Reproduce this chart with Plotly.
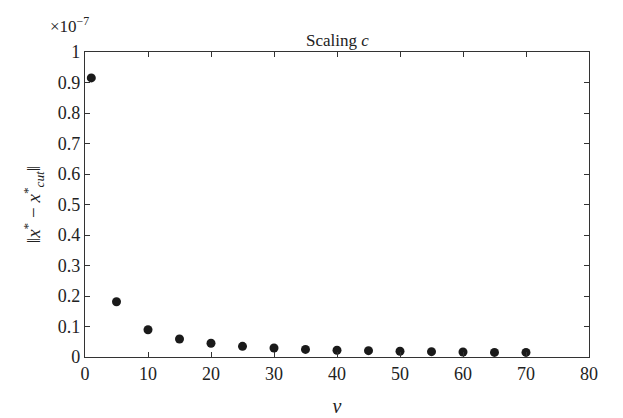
import plotly.graph_objects as go

nu = [1, 5, 10, 15, 20, 25, 30, 35, 40, 45, 50, 55, 60, 65, 70]
# values in units of 1e-7
err = [0.915, 0.181, 0.0895, 0.059, 0.045, 0.035, 0.0295, 0.025, 0.022, 0.0207,
       0.0187, 0.0175, 0.0164, 0.015, 0.015]
xticks = [0, 10, 20, 30, 40, 50, 60, 70, 80]
yticks = [0, 0.1, 0.2, 0.3, 0.4, 0.5, 0.6, 0.7, 0.8, 0.9, 1]
ytext = ["0", "0.1", "0.2", "0.3", "0.4", "0.5", "0.6", "0.7", "0.8", "0.9", "1"]

FONT = "Liberation Serif"

fig = go.Figure()
fig.add_trace(go.Scatter(x=nu, y=err, mode="markers",
                         marker=dict(color="#1a1a1a", size=9, symbol="circle"),
                         showlegend=False))

axis_common = dict(showline=True, linecolor="#333", linewidth=1.2, mirror="ticks",
                   ticks="inside", ticklen=5, tickcolor="#333", showgrid=False,
                   zeroline=False, tickfont=dict(family=FONT, size=18, color="#222"))

fig.update_xaxes(range=[0, 80], tickvals=xticks, **axis_common,
                 title=dict(text="<i>ν</i>", font=dict(family=FONT, size=20, color="#222"),
                            standoff=16))
fig.update_yaxes(range=[0, 1], tickvals=yticks, ticktext=ytext, **axis_common,
                 title=dict(text="‖<i>x</i><sup>*</sup> − <i>x</i><sup>*</sup><sub><i>cut</i></sub>‖",
                            font=dict(family=FONT, size=19, color="#222"), standoff=12))

fig.add_annotation(text="Scaling <i>c</i>", xref="paper", yref="paper", x=0.5, y=1.0,
                   yanchor="bottom", xanchor="center", showarrow=False, yshift=0,
                   font=dict(family=FONT, size=17, color="#222"))
fig.add_annotation(text="×10<sup>−7</sup>", xref="paper", yref="paper", x=0, y=1.0,
                   xanchor="right", yanchor="bottom", showarrow=False, xshift=6, yshift=14,
                   font=dict(family=FONT, size=17, color="#222"))

fig.update_layout(width=623, height=418, paper_bgcolor="white", plot_bgcolor="white",
                  margin=dict(l=77, r=42, t=44, b=69),
                  font=dict(family=FONT, color="#222"))

fig.write_html("out.html")
